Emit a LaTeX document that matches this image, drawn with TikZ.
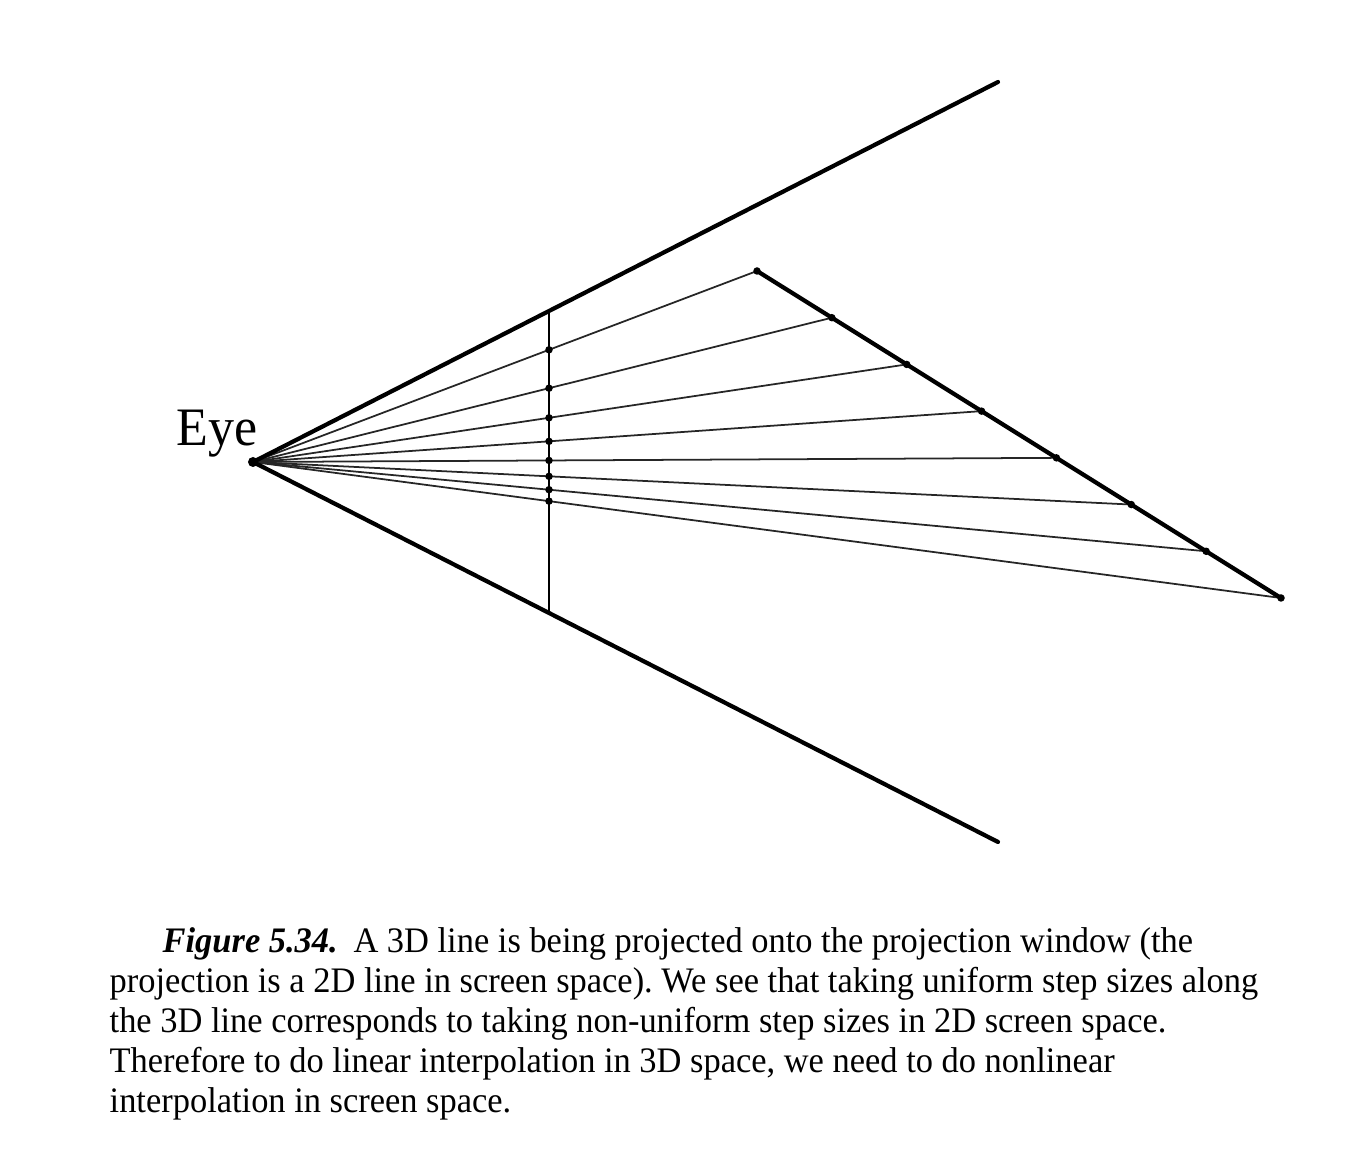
\documentclass[tikz,border=0pt]{standalone}
\usepackage{fontspec}
\setmainfont{Liberation Serif}[FakeStretch=0.96]
\usetikzlibrary{calc}
\frenchspacing
\begin{document}
\begin{tikzpicture}[x=0.01cm,y=-0.01cm,
  frust/.style={line width=1.2pt,line cap=round},
  ray/.style={line width=0.5pt,black!85},
  win/.style={line width=0.7pt},
  seg/.style={line width=1.2pt,line cap=round},
  dot/.style={circle,fill,inner sep=0pt,minimum size=0.075cm},
  captext/.style={anchor=base west,inner sep=0pt,font=\fontsize{10.2}{11.2}\selectfont}]
\useasboundingbox (0,0) rectangle (1363,1168);
\coordinate (eye) at (253,462);
\coordinate (ft) at (998,82);
\coordinate (fb) at (998,842);
\pgfmathsetmacro{\wy}{296/745*380}
\coordinate (wt) at (549,462-\wy);
\coordinate (wbt) at (549,462+\wy);
\foreach \i in {0,...,7}{
  \pgfmathsetmacro{\px}{757+\i*524/7}
  \pgfmathsetmacro{\py}{271+\i*327/7}
  \pgfmathsetmacro{\qy}{462+296/(\px-253)*(\py-462)}
  \coordinate (P\i) at (\px,\py);
  \coordinate (Q\i) at (549,\qy);
}
% rays
\foreach \i in {0,...,7}{\draw[ray] (eye) -- (P\i);}
% frustum
\draw[frust] (eye) -- (ft);
\draw[frust] (eye) -- (fb);
% window
\draw[win] (wt) -- (wbt);
% 3D line
\draw[seg] (P0) -- (P7);
% dots
\foreach \i in {0,...,7}{\node[dot] (p\i) at (P\i) {}; \node[dot] (q\i) at (Q\i) {};}
\node[dot,minimum size=0.1cm] (eyedot) at (eye) {};
\node[anchor=base west,inner sep=0pt,font=\fontsize{15.4}{18}\selectfont] (eyelbl) at (176,446) {Eye};
% caption
\node[captext] (c1) at (162,953) {\textbf{\textit{Figure 5.34.}}\hspace{0.2em} A 3D line is being projected onto the projection window (the};
\node[captext] (c2) at (109,993) {projection is a 2D line in screen space). We see that taking uniform step sizes along};
\node[captext] (c3) at (109,1033) {the 3D line corresponds to taking non-uniform step sizes in 2D screen space.};
\node[captext] (c4) at (109,1073) {Therefore to do linear interpolation in 3D space, we need to do nonlinear};
\node[captext] (c5) at (109,1113) {interpolation in screen space.};
\end{tikzpicture}
\end{document}
